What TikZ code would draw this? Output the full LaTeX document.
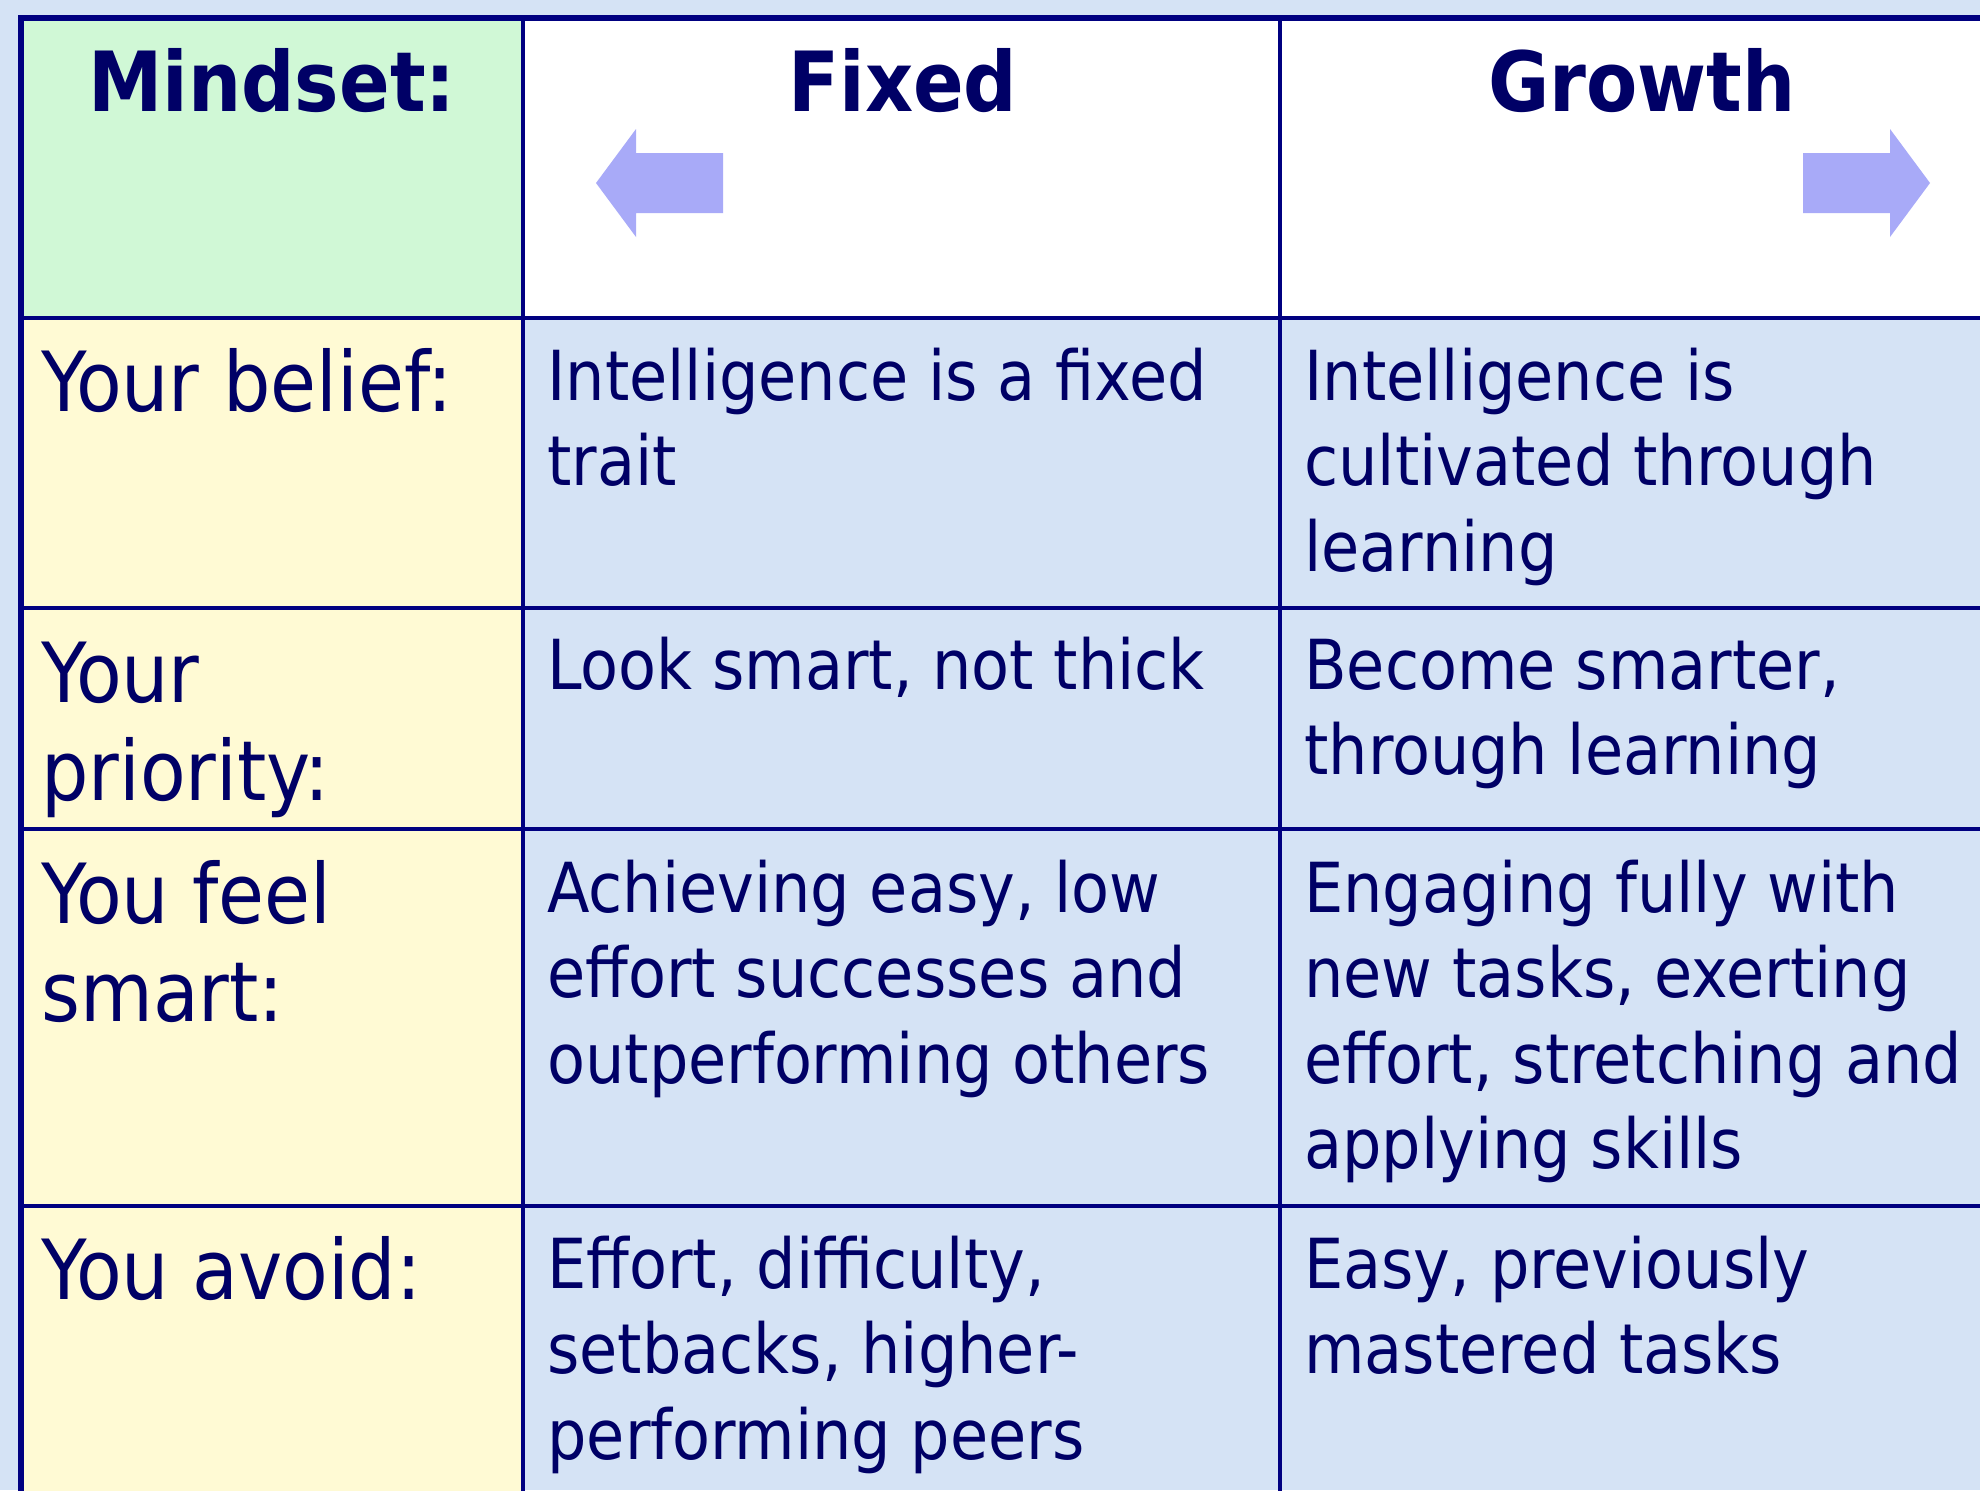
\documentclass[tikz,border=0pt]{standalone}
\usepackage{fontspec}
\setmainfont{DejaVu Sans Condensed}
\definecolor{bgblue}{RGB}{213,227,245}
\definecolor{cellyellow}{RGB}{255,250,212}
\definecolor{cellgreen}{RGB}{208,248,214}
\definecolor{navy}{RGB}{0,0,128}
\definecolor{txt}{RGB}{0,0,102}
\definecolor{arrowfill}{RGB}{168,170,248}
\tikzset{
  gridline/.style={draw=navy, line width=1.8pt},
  outerline/.style={draw=navy, line width=2.8pt},
  headtext/.style={anchor=base, inner sep=0pt, text=txt, font=\fontsize{41.5}{50}\selectfont\bfseries},
  labeltext/.style={anchor=base west, inner sep=0pt, text=txt, font=\fontsize{41.5}{49}\selectfont},
  bodytext/.style={anchor=base west, inner sep=0pt, text=txt, font=\fontsize{34.5}{42.75}\selectfont},
  bigarrow/.style={fill=arrowfill, draw=none}
}
\newcommand{\celltxt}[1]{\parbox[t]{400pt}{\raggedright #1}}
\begin{document}
\begin{tikzpicture}[x=0.5pt, y=-0.5pt]
\useasboundingbox (0,0) rectangle (1980,1490);
\clip (0,0) rectangle (1980,1490);
% background
\fill[bgblue] (0,0) rectangle (1980,1490);
% cell fills
\fill[cellgreen] (21,18) rectangle (523,318);
\fill[white] (523,18) rectangle (2004,318);
\fill[cellyellow] (21,318) rectangle (523,1530);
% arrows
\fill[bigarrow] (596,183) -- (636,129) -- (636,153) -- (723,153) -- (723,213) -- (636,213) -- (636,237) -- cycle;
\fill[bigarrow] (1930,183) -- (1890,129) -- (1890,153) -- (1803,153) -- (1803,213) -- (1890,213) -- (1890,237) -- cycle;
% grid lines
\draw[gridline] (523,18) -- (523,1530);
\draw[gridline] (1280,18) -- (1280,1530);
\draw[gridline] (21,318) -- (2004,318);
\draw[gridline] (21,608) -- (2004,608);
\draw[gridline] (21,829) -- (2004,829);
\draw[gridline] (21,1206) -- (2004,1206);
\draw[outerline] (21,18) rectangle (2004,1530);
% header
\node[headtext] (hmind) at (272,111) {Mindset:};
\node[headtext] (hfixed) at (903,111) {Fixed};
\node[headtext] (hgrowth) at (1642,111) {Growth};
% left labels
\node[labeltext] (l1) at (41,411) {\celltxt{Your belief:}};
\node[labeltext] (l2) at (41,702) {\celltxt{Your\\priority:}};
\node[labeltext] (l3) at (41,923) {\celltxt{You feel\\smart:}};
\node[labeltext] (l4) at (41,1299) {\celltxt{You avoid:}};
% fixed column
\node[bodytext] (f1) at (547,400) {\celltxt{Intelligence is a fixed\\trait}};
\node[bodytext] (f2) at (547,689) {\celltxt{Look smart, not thick}};
\node[bodytext] (f3) at (547,912) {\celltxt{Achieving easy, low\\effort successes and\\outperforming others}};
\node[bodytext] (f4) at (547,1288) {\celltxt{Effort, difficulty,\\setbacks, higher-\\performing peers}};
% growth column
\node[bodytext] (g1) at (1304,400) {\celltxt{Intelligence is\\cultivated through\\learning}};
\node[bodytext] (g2) at (1304,689) {\celltxt{Become smarter,\\through learning}};
\node[bodytext] (g3) at (1304,912) {\celltxt{Engaging fully with\\new tasks, exerting\\effort, stretching and\\applying skills}};
\node[bodytext] (g4) at (1304,1288) {\celltxt{Easy, previously\\mastered tasks}};
\end{tikzpicture}
\end{document}
